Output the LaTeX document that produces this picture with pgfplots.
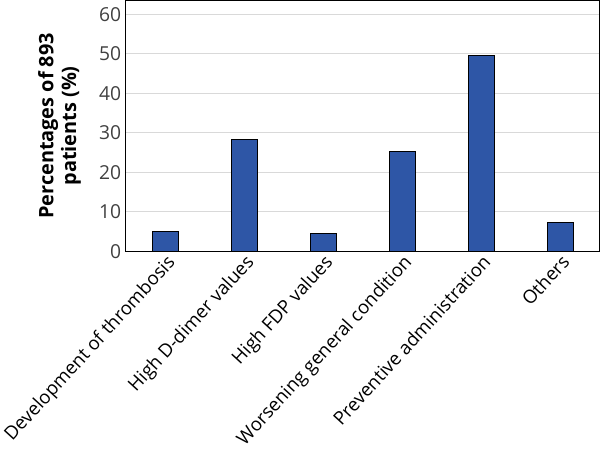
\documentclass[border=0pt]{standalone}
\usepackage{fontspec}
\setmainfont{Open Sans}
\usepackage{pgfplots}
\pgfplotsset{compat=1.18}
\definecolor{barblue}{HTML}{2E56A6}
\definecolor{gridgray}{HTML}{D9D9D9}
\begin{document}
\begin{tikzpicture}
\begin{axis}[
  width=357pt, height=189pt, scale only axis,
  xmin=-0.5, xmax=5.5, ymin=0, ymax=63.5,
  ytick={0,10,20,30,40,50,60},
  xtick={0,1,2,3,4,5},
  xticklabels={Development of thrombosis, High D-dimer values, High FDP values, Worsening general condition, Preventive administration, Others},
  x tick label style={rotate=47.5, anchor=north east, font=\fontsize{14}{16}\selectfont, inner sep=1pt},
  y tick label style={font=\fontsize{14.5}{16}\selectfont, text=black!75},
  /pgf/number format/assume math mode=true,
  major tick length=0pt,
  ymajorgrids, grid style={gridgray, line width=0.8pt},
  axis line style={black, line width=0.8pt},
  ylabel={\textbf{Percentages of 893}\\\textbf{patients (\%)}},
  ylabel style={align=center, font=\fontsize{15}{17}\selectfont, yshift=7pt},
  ybar, bar width=19.5pt,
]
\addplot[fill=barblue, draw=black, line width=0.6pt] coordinates {(0,5.0) (1,28.3) (2,4.6) (3,25.3) (4,49.7) (5,7.2)};
\end{axis}
\end{tikzpicture}
\end{document}
